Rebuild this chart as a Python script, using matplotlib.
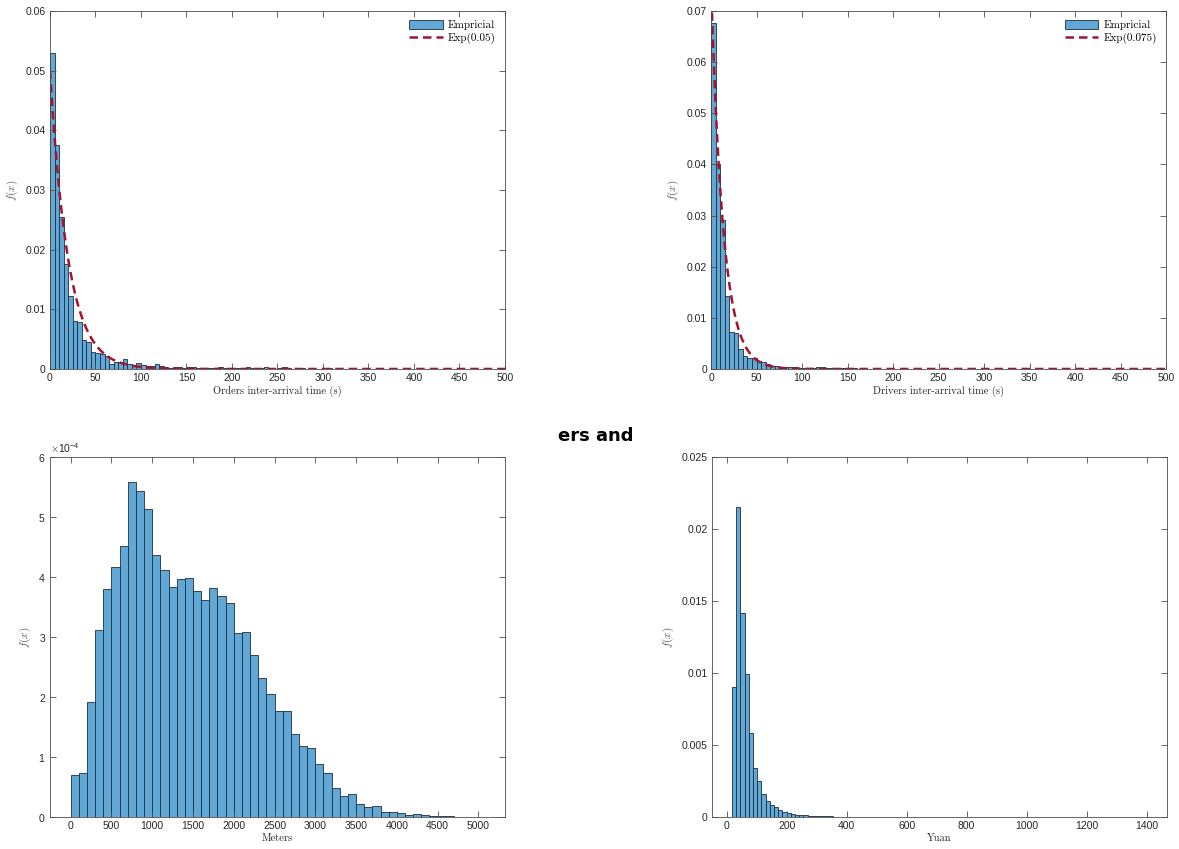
import numpy as np
import matplotlib
matplotlib.use("Agg")
import matplotlib.pyplot as plt
from matplotlib.ticker import FuncFormatter

plt.rcParams['mathtext.fontset'] = 'cm'
plt.rcParams['font.family'] = ['Liberation Sans', 'DejaVu Sans']

# --- data ---
# orders inter-arrival time, bins of 5 s from 0
orders_dens = [0.0529, 0.0375, 0.0254, 0.0176, 0.0123, 0.0081, 0.0078, 0.0049, 0.0045, 0.0028,
               0.0026, 0.0025, 0.0021, 0.0009, 0.0011, 0.0012, 0.0017, 0.0008, 0.0006, 0.0010,
               0.0006, 0.0005, 0.0005, 0.0009, 0.0005, 0.0003, 0.0001, 0.0004, 0.0004, 0.0001,
               0.0003, 0.0003, 0.0001, 0.0001, 0.0001, 0.0002, 0.0001, 0.0003, 0.0001, 0.0001,
               0.0001, 0.0001, 0.0001, 0.0003, 0.0001, 0.0001, 0.0001, 0.0003, 0.0001, 0.0,
               0.0001, 0.0003, 0.0001, 0.0, 0.0001, 0.0002, 0.0, 0.0001, 0.0, 0.0,
               0.0, 0.0001, 0.0, 0.0, 0.0, 0.0, 0.00005, 0.0, 0.0, 0.0,
               0.0, 0.0, 0.0, 0.0, 0.0, 0.0, 0.0, 0.00005, 0.0, 0.0,
               0.0, 0.0, 0.0, 0.0, 0.0, 0.0, 0.0, 0.0, 0.0, 0.0,
               0.0, 0.0, 0.0, 0.0, 0.0, 0.0, 0.0, 0.0, 0.0, 0.0]
orders_rate = 0.05

# drivers inter-arrival time, bins of 5 s from 0
drivers_dens = [0.0677, 0.0400, 0.0291, 0.0143, 0.0072, 0.0071, 0.0040, 0.0026, 0.0021, 0.0021,
                0.0015, 0.0014, 0.0009, 0.0006, 0.0005, 0.0004, 0.0004, 0.0003, 0.0003, 0.0002,
                0.0002, 0.0002, 0.0001, 0.0003, 0.0003, 0.0001, 0.0002, 0.0001, 0.0001, 0.0001,
                0.00005, 0.0001, 0.00005, 0.0, 0.00005, 0.0, 0.0, 0.00005, 0.0, 0.0]
drivers_rate = 0.075

# trip distance, bins of 100 m from 0 (x 1e-4)
meters_dens = [0.70, 0.73, 1.92, 3.11, 3.80, 4.17, 4.51, 5.58, 5.44, 5.13,
               4.36, 4.12, 3.83, 3.96, 3.99, 3.76, 3.62, 3.81, 3.68, 3.56,
               3.06, 3.08, 2.70, 2.32, 2.05, 1.76, 1.77, 1.39, 1.18, 1.15,
               0.89, 0.74, 0.49, 0.35, 0.38, 0.22, 0.16, 0.18, 0.09, 0.08,
               0.07, 0.04, 0.05, 0.03, 0.02, 0.015, 0.01, 0.005, 0.005, 0.005, 0.005]

# fare, bins of 14 yuan starting at 18
yuan_dens = [0.0090, 0.0215, 0.0142, 0.0099, 0.0058, 0.0034, 0.0025, 0.0016, 0.00114, 0.00081,
             0.00067, 0.00046, 0.00037, 0.00028, 0.00019, 0.00016, 0.00014, 0.00012, 0.00010, 0.00009,
             0.00007, 0.00006, 0.00005, 0.00004, 0.00003, 0.00003, 0.00002, 0.00002, 0.00002, 0.00001,
             0.00001, 0.00001, 0.00001, 0.00001, 0.00001, 0.00001, 0.00001, 0.00001, 0.0, 0.00001]

orders_edges = np.arange(len(orders_dens) + 1) * 5.0
drivers_edges = np.arange(len(drivers_dens) + 1) * 5.0
meters_edges = np.arange(len(meters_dens) + 1) * 100.0
yuan_edges = 18 + np.arange(len(yuan_dens) + 1) * 14.0

BAR = '#61a8d7'
EDGE = '#1c2e40'
RED = '#a2142f'
AXC = '#4d4d4d'
TXT = '#262626'

fmt = FuncFormatter(lambda v, p: '%g' % round(v, 6))


def style(ax):
    ax.tick_params(direction='in', length=4, width=0.6, colors=AXC, labelcolor=TXT,
                   labelsize=7.5, top=True, right=True, pad=3)
    for s in ax.spines.values():
        s.set_color(AXC)
        s.set_linewidth(0.6)


def hist(ax, edges, dens):
    return ax.bar(edges[:-1], dens, width=np.diff(edges), align='edge', color=BAR,
                  edgecolor=EDGE, linewidth=0.6, label='Empricial')


fig = plt.figure(figsize=(11.79, 8.49), dpi=100)
ax1 = fig.add_axes([0.0424, 0.5654, 0.3859, 0.4217])
ax2 = fig.add_axes([0.6031, 0.5654, 0.3859, 0.4217])
ax3 = fig.add_axes([0.0424, 0.0377, 0.3859, 0.4240])
ax4 = fig.add_axes([0.6039, 0.0377, 0.3859, 0.4240])

serif = {'family': 'cmr10', 'size': 7.5, 'color': TXT}
xs = np.linspace(0, 500, 600)

# top left
b1 = hist(ax1, orders_edges, orders_dens)
l1, = ax1.plot(xs, orders_rate * np.exp(-orders_rate * xs), color=RED, lw=1.8,
               dashes=(3.4, 2.0), label='Exp(%g)' % orders_rate)
ax1.set_xlim(0, 500)
ax1.set_ylim(0, 0.06)
ax1.set_xticks(np.arange(0, 501, 50))
ax1.set_yticks(np.arange(0, 0.061, 0.01))
ax1.set_xlabel('Orders inter-arrival time (s)', fontdict=serif, labelpad=2)

# top right
b2 = hist(ax2, drivers_edges, drivers_dens)
l2, = ax2.plot(xs, drivers_rate * np.exp(-drivers_rate * xs), color=RED, lw=1.8,
               dashes=(3.4, 2.0), label='Exp(%g)' % drivers_rate)
ax2.set_xlim(0, 500)
ax2.set_ylim(0, 0.07)
ax2.set_xticks(np.arange(0, 501, 50))
ax2.set_yticks(np.arange(0, 0.071, 0.01))
ax2.set_xlabel('Drivers inter-arrival time (s)', fontdict=serif, labelpad=2)

for ax, b, l in ((ax1, b1, l1), (ax2, b2, l2)):
    ax.yaxis.set_major_formatter(fmt)
    ax.legend([b, l], [b.get_label(), l.get_label()], loc='upper right', frameon=False,
              prop={'family': 'cmr10', 'size': 8},
              handlelength=3.0, handleheight=0.9, borderaxespad=0.4, labelspacing=0.2,
              handletextpad=0.5)

# bottom left
hist(ax3, meters_edges, np.array(meters_dens) * 1e-4)
ax3.set_xlim(-254, 5326)
ax3.set_ylim(0, 6e-4)
ax3.set_xticks(np.arange(0, 5001, 500))
ax3.ticklabel_format(axis='y', style='sci', scilimits=(-4, -4), useMathText=True)
ax3.yaxis.get_offset_text().set_fontsize(7.5)
ax3.yaxis.get_offset_text().set_color(TXT)
ax3.set_xlabel('Meters', fontdict=serif, labelpad=2)

# bottom right
hist(ax4, yuan_edges, yuan_dens)
ax4.set_xlim(-49, 1468)
ax4.set_ylim(0, 0.025)
ax4.set_xticks(np.arange(0, 1401, 200))
ax4.set_yticks(np.arange(0, 0.0251, 0.005))
ax4.yaxis.set_major_formatter(fmt)
ax4.set_xlabel('Yuan', fontdict=serif, labelpad=2)

for ax in (ax1, ax2, ax3, ax4):
    style(ax)
    ax.set_ylabel(r'$f(x)$', fontsize=8, color='#555555', labelpad=4)

fig.text(0.505, 0.486, 'ers and', ha='center', va='center', fontsize=13,
         fontweight='bold', family='DejaVu Sans', color='black')

fig.savefig('out.png', dpi=100)
